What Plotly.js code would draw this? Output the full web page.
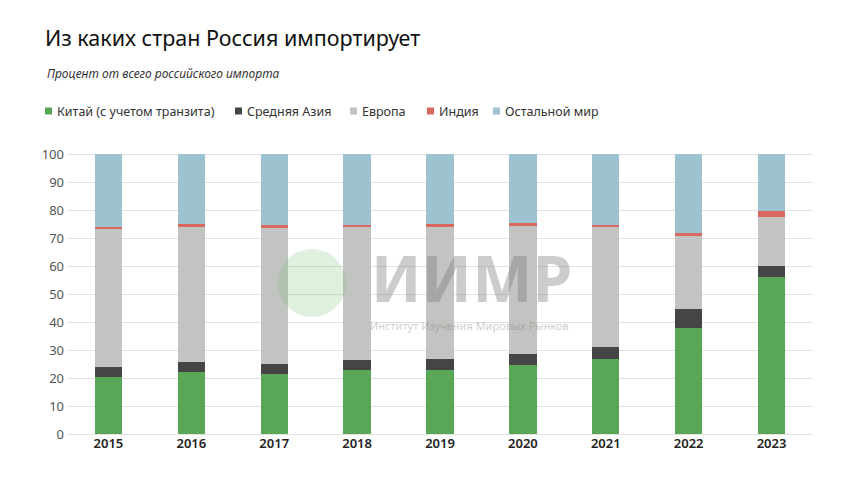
<!DOCTYPE html>
<html><head><meta charset="utf-8">
<script src="https://cdn.plot.ly/plotly-3.0.1.min.js"></script>
<style>html,body{margin:0;padding:0;background:#fff}#c{width:860px;height:484px}</style>
</head><body><div id="c"></div>
<script>
const years = ['2015','2016','2017','2018','2019','2020','2021','2022','2023'];
const china = [20.3, 22.3, 21.6, 22.9, 22.9, 24.8, 26.7, 37.9, 56.1];
const centralAsia = [3.7, 3.3, 3.5, 3.5, 4.1, 3.8, 4.3, 6.7, 3.9];
const europe = [49.3, 48.3, 48.4, 47.6, 47.0, 45.8, 42.9, 26.2, 17.7];
const india = [0.9, 1.1, 1.1, 0.8, 1.0, 0.9, 0.9, 1.2, 1.9];
const rest = [25.8, 25.0, 25.4, 25.2, 25.0, 24.7, 25.2, 28.0, 20.4];
const names = ['Китай (с учетом транзита)', 'Средняя Азия', 'Европа', 'Индия', 'Остальной мир'];
const yTicks = [0,10,20,30,40,50,60,70,80,90,100];

const colors = ['#59a756', '#454545', '#c2c4c1', '#d9685f', '#9dc3d1'];
const series = [china, centralAsia, europe, india, rest];
const traces = series.map((s, i) => ({
  type: 'bar', x: years, y: s, name: names[i],
  marker: {color: colors[i], line: {width: 0}},
  hoverinfo: 'x+y+name', showlegend: false
}));

// pixel -> paper helpers (plot area: x 67..813, y 153..434)
const L = 67, R = 813, T = 153, B = 434;
const px = x => (x - L) / (R - L);
const py = y => (B - y) / (B - T);

const F = 'Noto Sans, sans-serif';
const legendX = [45, 235, 350, 427, 493];
const legendY = 111;
const annotations = [
  {text: '<i>Процент от всего российского импорта</i>', xref: 'paper', yref: 'paper',
   x: px(45), y: py(74), xanchor: 'left', yanchor: 'middle', showarrow: false,
   font: {family: F, size: 12, color: '#333'}},
  {text: '<b>ИИМР</b>', xref: 'paper', yref: 'paper', x: px(471), y: py(277),
   xanchor: 'center', yanchor: 'middle', showarrow: false,
   font: {family: F, size: 64, color: 'rgba(120,120,120,0.38)'}},
  {text: 'Институт Изучения Мировых Рынков', xref: 'paper', yref: 'paper', x: px(469), y: py(325),
   xanchor: 'center', yanchor: 'middle', showarrow: false,
   font: {family: F, size: 11, color: 'rgba(120,120,120,0.38)'}}
];
const shapes = [
  {type: 'circle', xref: 'paper', yref: 'paper', layer: 'above',
   x0: px(278), x1: px(346), y0: py(317), y1: py(249),
   fillcolor: 'rgba(110,185,110,0.22)', line: {width: 0}}
];
names.forEach((n, i) => {
  shapes.push({type: 'rect', xref: 'paper', yref: 'paper', layer: 'above',
    x0: px(legendX[i]), x1: px(legendX[i] + 7), y0: py(legendY + 3.5), y1: py(legendY - 3.5),
    fillcolor: colors[i], line: {width: 0}});
  annotations.push({text: n, xref: 'paper', yref: 'paper', x: px(legendX[i] + 10), y: py(legendY),
    xanchor: 'left', yanchor: 'middle', showarrow: false,
    font: {family: F, size: 12.5, color: '#333'}});
});

const layout = {
  width: 860, height: 484,
  margin: {l: L, r: 860 - R, t: T, b: 484 - B},
  paper_bgcolor: '#fff', plot_bgcolor: '#fff',
  barmode: 'stack', bargap: 0.67,
  font: {family: F, color: '#333'},
  title: {text: 'Из каких стран Россия импортирует', font: {family: F, size: 21.5, color: '#111'},
          x: 45/860, xref: 'container', xanchor: 'left', y: 1 - 38/484, yref: 'container', yanchor: 'middle'},
  showlegend: false,
  xaxis: {type: 'category', showgrid: false, zeroline: false, showline: false, ticks: '',
          tickfont: {family: F, size: 13, color: '#222', weight: 600}},
  yaxis: {range: [0, 100.5], tickvals: yTicks, ticktext: yTicks.map(String), showgrid: true, gridcolor: '#e2e2e2',
          gridwidth: 1, zeroline: true, zerolinecolor: '#e2e2e2', showline: false, ticks: '',
          tickfont: {family: F, size: 13, color: '#555'}, ticklabelstandoff: 2},
  annotations: annotations,
  shapes: shapes
};
Plotly.newPlot('c', traces, layout, {displayModeBar: false, staticPlot: true});
</script></body></html>
